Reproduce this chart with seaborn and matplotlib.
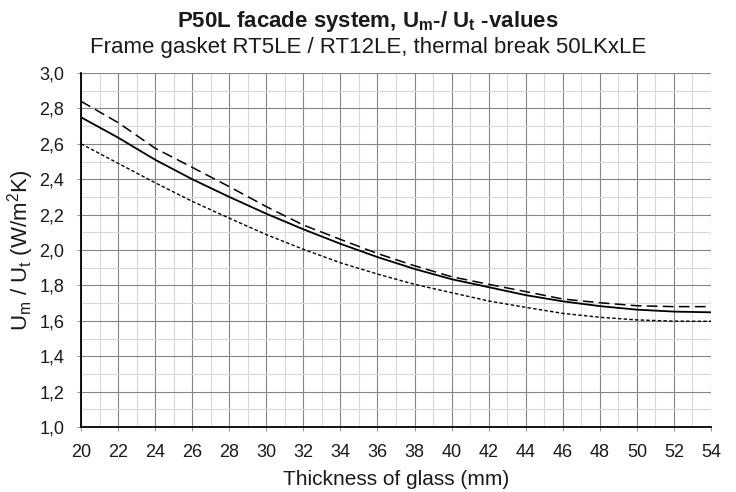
import matplotlib
matplotlib.use("Agg")
import matplotlib.pyplot as plt
import seaborn as sns
import pandas as pd
from matplotlib.ticker import MultipleLocator, FuncFormatter

thickness = [20, 22, 24, 26, 28, 30, 32, 34, 36, 38, 40, 42, 44, 46, 48, 50, 52, 54]
u_dashed = [2.84, 2.72, 2.575, 2.467, 2.358, 2.245, 2.141, 2.06, 1.98, 1.911,
            1.849, 1.806, 1.765, 1.723, 1.702, 1.685, 1.68, 1.68]
u_solid = [2.75, 2.635, 2.51, 2.40, 2.30, 2.205, 2.117, 2.035, 1.96, 1.893,
           1.835, 1.79, 1.745, 1.71, 1.683, 1.663, 1.652, 1.648]
u_dotted = [2.60, 2.49, 2.38, 2.275, 2.18, 2.087, 2.004, 1.928, 1.864, 1.806,
            1.759, 1.712, 1.676, 1.642, 1.62, 1.605, 1.598, 1.597]

title_text = r"P50L facade system, $\mathbf{U_m}$-/ $\mathbf{U_t}$ -values"
subtitle_text = "Frame gasket RT5LE / RT12LE, thermal break 50LKxLE"
xlabel_text = "Thickness of glass (mm)"
ylabel_text = r"U$_m$ / U$_t$ (W/m$^2$K)"

sns.set_theme(style="white")
plt.rcParams["font.family"] = ["Liberation Sans", "DejaVu Sans"]
plt.rcParams["mathtext.fontset"] = "custom"
plt.rcParams["mathtext.rm"] = "Liberation Sans"
plt.rcParams["mathtext.it"] = "Liberation Sans"
plt.rcParams["mathtext.bf"] = "Liberation Sans:bold"
plt.rcParams["mathtext.default"] = "regular"

W, H = 736, 492
fig = plt.figure(figsize=(W / 100, H / 100), dpi=100)
ax_l, ax_r, ax_t, ax_b = 81, 711, 73, 427
ax = fig.add_axes([ax_l / W, 1 - ax_b / H, (ax_r - ax_l) / W, (ax_b - ax_t) / H])

df = pd.DataFrame({"x": thickness, "dashed": u_dashed, "solid": u_solid, "dotted": u_dotted})

sns.lineplot(data=df, x="x", y="dashed", ax=ax, color="black", lw=1.1, zorder=5)
ax.lines[-1].set_dashes((7, 3.5))
sns.lineplot(data=df, x="x", y="solid", ax=ax, color="black", lw=1.3, zorder=5)
sns.lineplot(data=df, x="x", y="dotted", ax=ax, color="black", lw=1.0, zorder=5)
ax.lines[-1].set_dashes((2.5, 1.6))

ax.set_xlim(20, 54)
ax.set_ylim(1.0, 3.0)
ax.xaxis.set_major_locator(MultipleLocator(2))
ax.xaxis.set_minor_locator(MultipleLocator(1))
ax.yaxis.set_major_locator(MultipleLocator(0.2))
ax.yaxis.set_minor_locator(MultipleLocator(0.1))
ax.yaxis.set_major_formatter(FuncFormatter(lambda v, p: f"{v:.1f}".replace(".", ",")))
ax.xaxis.set_major_formatter(FuncFormatter(lambda v, p: f"{v:.0f}"))

ax.grid(which="major", color="#858585", lw=0.8)
ax.grid(which="minor", color="#d8d8d8", lw=0.8)
ax.set_axisbelow(True)

for s in ["top", "right"]:
    ax.spines[s].set_visible(False)
for s in ["left", "bottom"]:
    ax.spines[s].set_color("black")
    ax.spines[s].set_linewidth(1.3)
    ax.spines[s].set_zorder(6)

ax.tick_params(which="major", direction="out", length=3, width=0.8, color="#9a9a9a",
               labelsize=13, labelcolor="#1a1a1a", bottom=True, left=True)
ax.tick_params(axis="x", which="major", pad=9)
ax.tick_params(axis="y", which="major", pad=9)
ax.tick_params(which="minor", length=0)

ax.set_xlabel(xlabel_text, fontsize=15, color="#1a1a1a", va="baseline")
ax.xaxis.set_label_coords(0.5, (ax_b - 485) / (ax_b - ax_t))
ax.set_ylabel(ylabel_text, fontsize=16, color="#1a1a1a", va="center")
ax.yaxis.set_label_coords((21 - ax_l) / (ax_r - ax_l), 0.5)

fig.text(0.5, 1 - 27 / H, title_text, ha="center", va="baseline",
         fontsize=16, fontweight="bold", color="#1a1a1a")
fig.text(0.5, 1 - 53 / H, subtitle_text, ha="center", va="baseline",
         fontsize=16, color="#1a1a1a")

fig.savefig("out.png", dpi=100)
